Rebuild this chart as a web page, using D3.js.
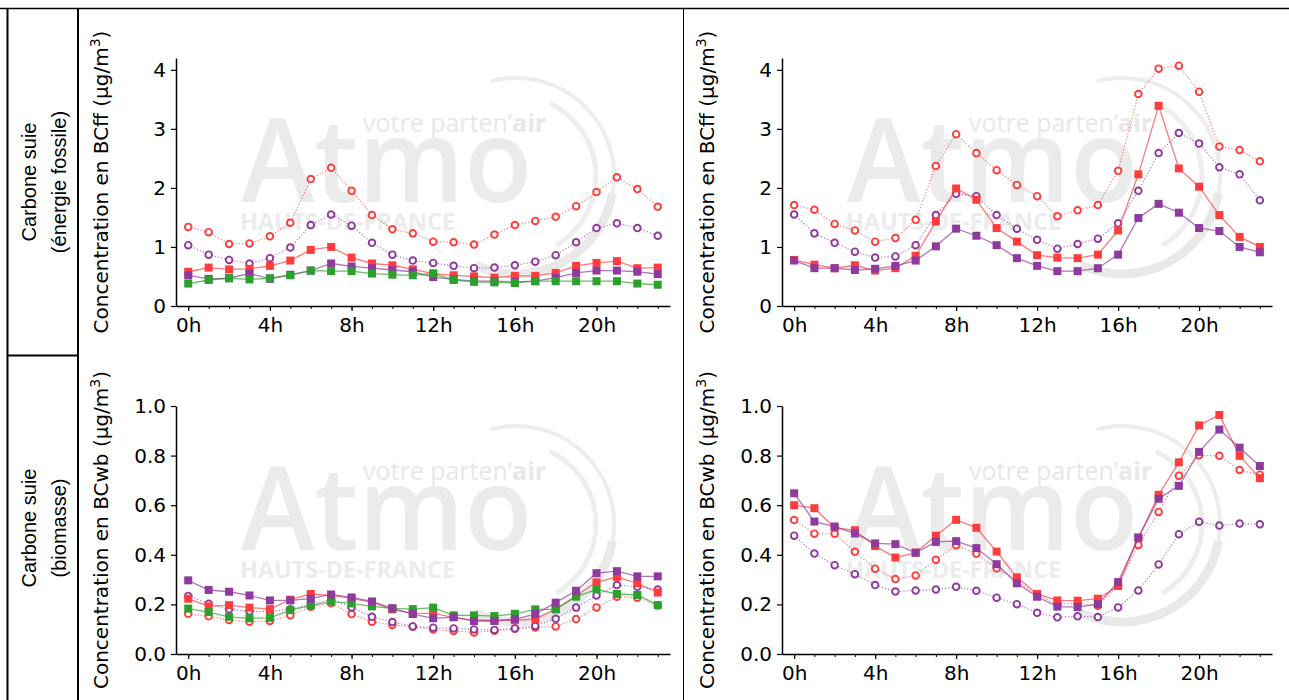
<!DOCTYPE html>
<html>
<head>
<meta charset="utf-8">
<script src="https://cdn.jsdelivr.net/npm/d3@7"></script>
<style>
  body { margin: 0; background: #fff; }
  svg { display: block; }
</style>
</head>
<body>
<svg id="chart"></svg>
<script>
// hours of the day and tick labels
const hours = [0, 1, 2, 3, 4, 5, 6, 7, 8, 9, 10, 11, 12, 13, 14, 15, 16, 17, 18, 19, 20, 21, 22, 23];
const hourTicks = [0, 4, 8, 12, 16, 20];
const bcffTicks = [0, 1, 2, 3, 4];
const bcwbTicks = [0, 0.2, 0.4, 0.6, 0.8, 1.0];
const rowLabels = [["Carbone suie", "(énergie fossile)"], ["Carbone suie", "(biomasse)"]];

// BCff, left panel
const ffLeftRedOpen = [1.34, 1.25, 1.05, 1.06, 1.18, 1.41, 2.15, 2.34, 1.95, 1.54, 1.30, 1.23, 1.09, 1.08, 1.04, 1.21, 1.37, 1.44, 1.51, 1.69, 1.93, 2.18, 1.98, 1.68];
const ffLeftPurpleOpen = [1.03, 0.87, 0.78, 0.72, 0.81, 0.99, 1.37, 1.55, 1.36, 1.07, 0.87, 0.77, 0.73, 0.68, 0.64, 0.65, 0.69, 0.75, 0.86, 1.08, 1.32, 1.40, 1.32, 1.19];
const ffLeftRed = [0.58, 0.65, 0.62, 0.63, 0.68, 0.77, 0.95, 1.00, 0.82, 0.72, 0.69, 0.62, 0.55, 0.52, 0.50, 0.48, 0.51, 0.51, 0.56, 0.68, 0.73, 0.76, 0.64, 0.65];
const ffLeftPurple = [0.52, 0.46, 0.47, 0.55, 0.46, 0.53, 0.60, 0.72, 0.67, 0.64, 0.61, 0.58, 0.49, 0.45, 0.42, 0.42, 0.41, 0.42, 0.48, 0.56, 0.60, 0.60, 0.58, 0.54];
const ffLeftGreen = [0.38, 0.44, 0.47, 0.45, 0.47, 0.52, 0.60, 0.59, 0.59, 0.55, 0.53, 0.52, 0.55, 0.44, 0.41, 0.40, 0.39, 0.42, 0.42, 0.42, 0.42, 0.42, 0.38, 0.36];

// BCff, right panel
const ffRightRedOpen = [1.71, 1.63, 1.39, 1.28, 1.09, 1.15, 1.46, 2.37, 2.91, 2.59, 2.30, 2.05, 1.86, 1.52, 1.62, 1.71, 2.29, 3.59, 4.02, 4.07, 3.63, 2.70, 2.64, 2.45];
const ffRightPurpleOpen = [1.55, 1.23, 1.07, 0.92, 0.82, 0.84, 1.03, 1.54, 1.90, 1.86, 1.54, 1.31, 1.12, 0.97, 1.05, 1.14, 1.40, 1.95, 2.59, 2.93, 2.75, 2.35, 2.23, 1.79];
const ffRightRed = [0.78, 0.70, 0.64, 0.69, 0.60, 0.64, 0.85, 1.43, 1.99, 1.80, 1.32, 1.09, 0.86, 0.82, 0.81, 0.87, 1.28, 2.23, 3.39, 2.33, 2.02, 1.54, 1.17, 1.00];
const ffRightPurple = [0.77, 0.64, 0.64, 0.61, 0.63, 0.68, 0.77, 1.01, 1.31, 1.19, 1.03, 0.81, 0.68, 0.59, 0.59, 0.64, 0.87, 1.49, 1.73, 1.58, 1.32, 1.27, 1.00, 0.91];

// BCwb, left panel
const wbLeftRedOpen = [0.162, 0.152, 0.137, 0.130, 0.133, 0.156, 0.191, 0.205, 0.161, 0.130, 0.117, 0.110, 0.099, 0.093, 0.087, 0.094, 0.102, 0.107, 0.111, 0.141, 0.188, 0.231, 0.227, 0.196];
const wbLeftPurpleOpen = [0.234, 0.203, 0.180, 0.172, 0.172, 0.180, 0.201, 0.220, 0.188, 0.150, 0.129, 0.111, 0.106, 0.103, 0.099, 0.097, 0.103, 0.113, 0.142, 0.187, 0.236, 0.278, 0.271, 0.260];
const wbLeftRed = [0.223, 0.192, 0.197, 0.187, 0.181, 0.219, 0.242, 0.236, 0.224, 0.208, 0.180, 0.164, 0.164, 0.148, 0.136, 0.136, 0.136, 0.141, 0.181, 0.235, 0.289, 0.311, 0.285, 0.248];
const wbLeftPurple = [0.297, 0.258, 0.251, 0.236, 0.216, 0.216, 0.223, 0.240, 0.228, 0.212, 0.184, 0.161, 0.144, 0.149, 0.133, 0.133, 0.141, 0.161, 0.207, 0.255, 0.326, 0.334, 0.313, 0.313];
const wbLeftGreen = [0.183, 0.169, 0.150, 0.144, 0.146, 0.177, 0.195, 0.212, 0.204, 0.192, 0.184, 0.181, 0.187, 0.156, 0.156, 0.153, 0.162, 0.180, 0.180, 0.231, 0.260, 0.242, 0.238, 0.197];

// BCwb, right panel
const wbRightRedOpen = [0.540, 0.485, 0.485, 0.412, 0.344, 0.302, 0.317, 0.380, 0.439, 0.404, 0.345, 0.294, 0.238, 0.201, 0.204, 0.195, 0.275, 0.440, 0.573, 0.719, 0.801, 0.799, 0.742, 0.723];
const wbRightPurpleOpen = [0.477, 0.405, 0.358, 0.322, 0.278, 0.252, 0.256, 0.260, 0.271, 0.255, 0.227, 0.201, 0.166, 0.148, 0.152, 0.149, 0.188, 0.256, 0.361, 0.483, 0.533, 0.518, 0.526, 0.523];
const wbRightRed = [0.600, 0.588, 0.510, 0.499, 0.435, 0.389, 0.409, 0.477, 0.541, 0.509, 0.413, 0.309, 0.242, 0.216, 0.215, 0.223, 0.274, 0.468, 0.642, 0.773, 0.922, 0.964, 0.799, 0.709];
const wbRightPurple = [0.648, 0.534, 0.514, 0.486, 0.446, 0.443, 0.408, 0.452, 0.455, 0.427, 0.362, 0.285, 0.231, 0.191, 0.189, 0.201, 0.290, 0.470, 0.626, 0.678, 0.815, 0.905, 0.832, 0.758];

const RED = "#ff3d3d", PURPLE = "#8e3a9e", GREEN = "#2ca02c";

const W = 1289, H = 700;
const svg = d3.select("#chart").attr("width", W).attr("height", H);

// table lines
const grid = svg.append("g").attr("stroke", "#000").attr("fill", "none");
grid.append("line").attr("x1", 0).attr("x2", W).attr("y1", 8.5).attr("y2", 8.5).attr("stroke-width", 1.5);
grid.append("line").attr("x1", 7.5).attr("x2", 7.5).attr("y1", 8).attr("y2", H).attr("stroke-width", 2);
grid.append("line").attr("x1", 78).attr("x2", 78).attr("y1", 8).attr("y2", H).attr("stroke-width", 2);
grid.append("line").attr("x1", 7).attr("x2", 79).attr("y1", 355.5).attr("y2", 355.5).attr("stroke-width", 2);
grid.append("line").attr("x1", 683.5).attr("x2", 683.5).attr("y1", 8).attr("y2", H).attr("stroke-width", 1);

// row labels
rowLabels.forEach((lines, i) => {
  const cy = i === 0 ? 182 : 528;
  const t = svg.append("text")
    .attr("transform", `translate(0,${cy}) rotate(-90)`)
    .attr("text-anchor", "middle")
    .style("font-family", "'Liberation Sans', Arial, sans-serif")
    .style("font-size", "20px")
    .attr("fill", "#000");
  t.append("tspan").attr("x", 0).attr("y", 36).text(lines[0]);
  t.append("tspan").attr("x", 0).attr("y", 66).text(lines[1]);
});

function watermark(g, ax0, ay1) {
  const w = g.append("g").attr("pointer-events", "none");
  const cx = ax0 + 340, cy = ay1 - 130;
  const arc = d3.arc();
  const deg = Math.PI / 180;
  [
    {r: 98, w: 4, a0: -15, a1: 100, c: "#ededed"},
    {r: 98, w: 9, a0: 100, a1: 205, c: "#e9e9e9"},
    {r: 80, w: 5, a0: 25, a1: 150, c: "#eeeeee"}
  ].forEach(a => {
    w.append("path")
      .attr("transform", `translate(${cx},${cy})`)
      .attr("d", arc({innerRadius: a.r - a.w / 2, outerRadius: a.r + a.w / 2, startAngle: a.a0 * deg, endAngle: a.a1 * deg, cornerRadius: a.w / 2}))
      .attr("fill", a.c);
  });
  w.append("text")
    .attr("x", ax0 + 65).attr("y", ay1 - 104)
    .attr("textLength", 291).attr("lengthAdjust", "spacingAndGlyphs")
    .style("font-family", "'Open Sans', sans-serif").style("font-weight", 600).style("font-size", "116px")
    .attr("fill", "#ebebeb").text("Atmo");
  const v = w.append("text")
    .attr("x", ax0 + 187).attr("y", ay1 - 174)
    .style("font-family", "'Open Sans', sans-serif").style("font-size", "25px")
    .attr("fill", "#e8e8e8");
  v.append("tspan").text("votre parten\u2019");
  v.append("tspan").style("font-weight", 700).text("air");
  w.append("text")
    .attr("x", ax0 + 64).attr("y", ay1 - 76)
    .attr("textLength", 215).attr("lengthAdjust", "spacingAndGlyphs")
    .style("font-family", "'Open Sans', sans-serif").style("font-weight", 700).style("font-size", "23px")
    .attr("fill", "#ececec").text("HAUTS-DE-FRANCE");
}

const panels = [
  {x0: 176, x1: 670, y0: 58, y1: 306, ymax: 4.2, ticks: bcffTicks, fmt: d3.format("d"), name: "BCff",
   series: [[ffLeftRedOpen, RED, true], [ffLeftPurpleOpen, PURPLE, true], [ffLeftRed, RED, false], [ffLeftPurple, PURPLE, false], [ffLeftGreen, GREEN, false]]},
  {x0: 782, x1: 1272, y0: 58, y1: 306, ymax: 4.2, ticks: bcffTicks, fmt: d3.format("d"), name: "BCff",
   series: [[ffRightRedOpen, RED, true], [ffRightPurpleOpen, PURPLE, true], [ffRightRed, RED, false], [ffRightPurple, PURPLE, false]]},
  {x0: 176, x1: 670, y0: 406, y1: 654, ymax: 1.0, ticks: bcwbTicks, fmt: d3.format(".1f"), name: "BCwb",
   series: [[wbLeftRedOpen, RED, true], [wbLeftPurpleOpen, PURPLE, true], [wbLeftRed, RED, false], [wbLeftGreen, GREEN, false], [wbLeftPurple, PURPLE, false]]},
  {x0: 782, x1: 1272, y0: 406, y1: 654, ymax: 1.0, ticks: bcwbTicks, fmt: d3.format(".1f"), name: "BCwb",
   series: [[wbRightPurpleOpen, PURPLE, true], [wbRightRedOpen, RED, true], [wbRightRed, RED, false], [wbRightPurple, PURPLE, false]]}
];

panels.forEach(p => {
  const g = svg.append("g");
  watermark(g, p.x0, p.y1);

  const x = d3.scaleLinear().domain([-0.6, 23.6]).range([p.x0, p.x1]);
  const y = d3.scaleLinear().domain([0, p.ymax]).range([p.y1, p.y0]);

  const line = d3.line().x((d, i) => x(hours[i])).y(d => y(d));

  p.series.forEach(([vals, color, open]) => {
    const s = g.append("g");
    s.append("path")
      .datum(vals)
      .attr("d", line)
      .attr("fill", "none")
      .attr("stroke", color)
      .attr("stroke-opacity", open ? 0.75 : 0.7)
      .attr("stroke-width", open ? 1.1 : 1.3)
      .attr("stroke-dasharray", open ? "1.2,2" : null);
    if (open) {
      s.selectAll("circle").data(vals).join("circle")
        .attr("cx", (d, i) => x(hours[i]))
        .attr("cy", d => y(d))
        .attr("r", 3.3)
        .attr("fill", "#fff")
        .attr("stroke", color)
        .attr("stroke-width", 1.9);
    } else {
      s.selectAll("rect").data(vals).join("rect")
        .attr("x", (d, i) => x(hours[i]) - 4)
        .attr("y", d => y(d) - 4)
        .attr("width", 8)
        .attr("height", 8)
        .attr("fill", color);
    }
  });

  const font = "'DejaVu Sans', sans-serif";
  // minor hour ticks
  g.append("g")
    .attr("transform", `translate(0,${p.y1})`)
    .call(d3.axisBottom(x).tickValues(hours).tickSize(3).tickSizeOuter(0).tickFormat(""))
    .call(a => a.select(".domain").remove())
    .call(a => a.selectAll("line").attr("stroke-width", 1));

  const xAxis = g.append("g")
    .attr("transform", `translate(0,${p.y1})`)
    .call(d3.axisBottom(x).tickValues(hourTicks).tickSize(5).tickSizeOuter(0).tickPadding(7).tickFormat(d => d + "h"));
  xAxis.select(".domain").attr("stroke-width", 1.5);
  xAxis.selectAll("line").attr("stroke-width", 1.2);
  xAxis.selectAll("text").style("font-family", font).style("font-size", "20px").attr("fill", "#000");

  const yAxis = g.append("g")
    .attr("transform", `translate(${p.x0},0)`)
    .call(d3.axisLeft(y).tickValues(p.ticks).tickSize(5).tickSizeOuter(0).tickPadding(5).tickFormat(p.fmt));
  yAxis.select(".domain").attr("stroke-width", 1.5);
  yAxis.selectAll("line").attr("stroke-width", 1.2);
  yAxis.selectAll("text").style("font-family", font).style("font-size", "20px").attr("fill", "#000");

  const lab = g.append("text")
    .attr("transform", `translate(${p.x0 - 68},${(p.y0 + p.y1) / 2}) rotate(-90)`)
    .attr("text-anchor", "middle")
    .style("font-family", font).style("font-size", "20px").attr("fill", "#000");
  lab.append("tspan").text(`Concentration en ${p.name} (µg/m`);
  lab.append("tspan").attr("dy", -8).style("font-size", "14px").text("3");
  lab.append("tspan").attr("dy", 8).text(")");
});
</script>
</body>
</html>
